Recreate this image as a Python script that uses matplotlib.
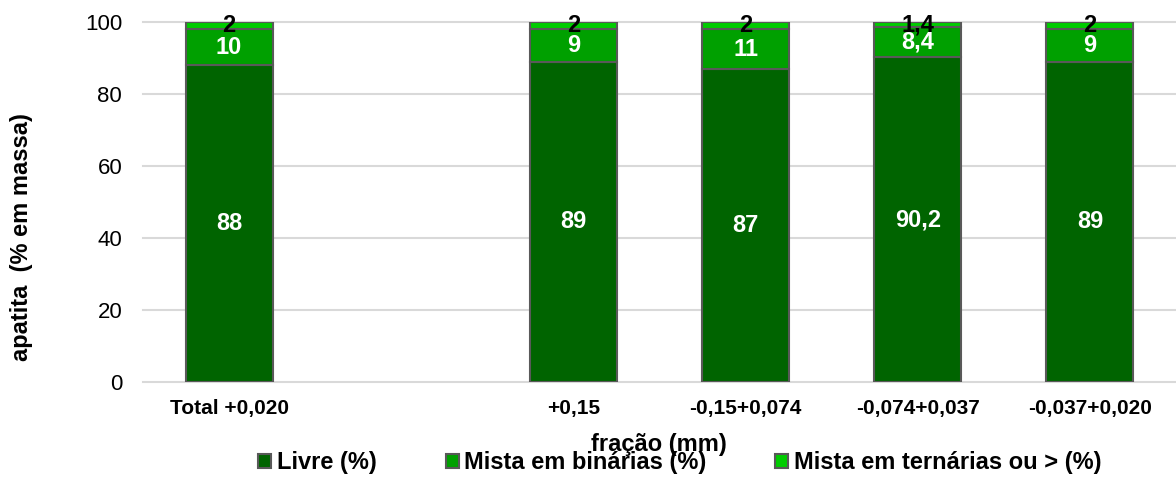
import numpy as np
import matplotlib
matplotlib.use("Agg")
import matplotlib.pyplot as plt

plt.rcParams['font.family'] = ['Liberation Sans', 'DejaVu Sans']

# Size fractions (an empty slot separates the total from the fractions)
categories = ['Total +0,020', '', '+0,15', '-0,15+0,074', '-0,074+0,037', '-0,037+0,020']
livre = [88, np.nan, 89, 87, 90.2, 89]
binarias = [10, np.nan, 9, 11, 8.4, 9]
ternarias = [2, np.nan, 2, 2, 1.4, 2]

series_names = ['Livre (%)', 'Mista em binárias (%)', 'Mista em ternárias ou > (%)']
colors = ['#006400', '#00a000', '#00cc00']
label_colors = ['white', 'white', 'black']

W, H = 1176, 478
fig = plt.figure(figsize=(W / 100, H / 100), dpi=100)
ax = fig.add_axes([143 / W, 1 - 382 / H, (1176 - 143) / W, 360 / H])

x = np.arange(len(categories))
has_data = ~np.isnan(np.array(livre, dtype=float))
bottom = np.zeros(len(categories))
handles = []
for vals, name, col, lcol in zip([livre, binarias, ternarias], series_names, colors, label_colors):
    v = np.array(vals, dtype=float)
    bars = ax.bar(x[has_data], v[has_data], width=0.505, bottom=bottom[has_data], color=col,
                  edgecolor='#595959', linewidth=1.5, label=name)
    handles.append(bars)
    for xi, b, val in zip(x[has_data], bottom[has_data], v[has_data]):
        txt = ('%g' % val).replace('.', ',')
        ax.text(xi, b + val / 2, txt, ha='center', va='center', color=lcol,
                fontsize=17, fontweight='bold')
    bottom = bottom + np.nan_to_num(v)

ax.set_xlim(-0.5, len(categories) - 0.5)
ax.set_ylim(0, 100)
ax.set_yticks([0, 20, 40, 60, 80, 100])
ax.set_xticks(x)
ax.set_xticklabels(categories, fontsize=15, fontweight='bold')
ax.tick_params(axis='y', length=0, pad=15, labelsize=16)
ax.tick_params(axis='x', length=0, pad=12)

ax.grid(axis='y', color='#d9d9d9', linewidth=1.5)
for gl in ax.get_ygridlines():
    gl.set_clip_on(False)
ax.set_axisbelow(True)
for s in ax.spines.values():
    s.set_visible(False)

fig.text(659 / W, 1 - 444 / H, 'fração (mm)', ha='center', va='center',
         fontsize=17, fontweight='bold')
fig.text(22 / W, 1 - 237 / H, 'apatita  (% em massa)', rotation=90,
         ha='center', va='center', fontsize=17, fontweight='bold')

leg = fig.legend(handles=handles, labels=series_names, ncol=3, loc='center',
                 bbox_to_anchor=(680 / W, 1 - 463 / H), frameon=False,
                 prop={'size': 17, 'weight': 'bold'},
                 handlelength=0.55, handleheight=0.55, handletextpad=0.25,
                 columnspacing=2.9, borderaxespad=0, borderpad=0)

fig.savefig('out.png', dpi=100)
